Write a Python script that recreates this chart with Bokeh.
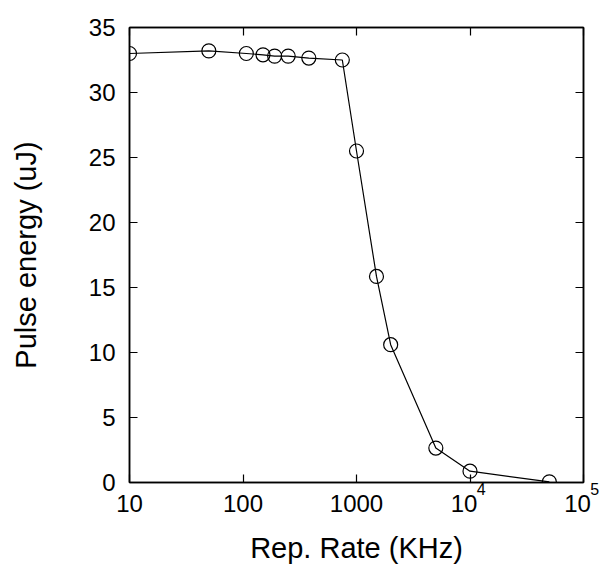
from bokeh.plotting import figure
from bokeh.models import Range1d, FixedTicker, LinearAxis, LogAxis
from bokeh.embed import file_html
from bokeh.resources import INLINE

rep_rate_khz = [10, 50, 107, 150, 190, 250, 380, 750, 1000, 1500, 2000, 5000, 10000, 50000]
pulse_energy_uj = [33.0, 33.2, 33.0, 32.9, 32.8, 32.8, 32.65, 32.5, 25.5, 15.85, 10.6, 2.65, 0.87, 0.05]

x_ticks = [10, 100, 1000, 10000, 100000]
x_tick_labels = ["10", "100", "1000", "10\u2002", "10\u2002"]
x_tick_exponents = [" ", " ", " ", "4", "5"]
y_ticks = [0, 5, 10, 15, 20, 25, 30, 35]

FONT = "Liberation Sans"
EXP_PAD = "\u2002\u2002\u2009\u2009"   # pushes centred exponent to the right of "10"

p = figure(width=603, height=568, x_axis_type="log",
           x_range=Range1d(10, 100000), y_range=Range1d(0, 35),
           output_backend="svg", toolbar_location=None,
           min_border_left=129, min_border_right=20,
           min_border_top=27, min_border_bottom=86)

p.grid.visible = False
p.outline_line_color = "black"
p.outline_line_width = 1.5
p.background_fill_color = "white"
p.border_fill_color = "white"

p.line(rep_rate_khz, pulse_energy_uj, line_color="black", line_width=1.2)
p.scatter(rep_rate_khz, pulse_energy_uj, marker="circle", size=14,
          fill_color=None, line_color="black", line_width=1.2)

def style(ax, labels=True):
    ax.axis_line_color = "black"
    ax.axis_line_width = 1.5
    ax.major_tick_in = 8
    ax.major_tick_out = 0
    ax.minor_tick_line_color = None
    ax.major_tick_line_color = "black"
    ax.major_tick_line_width = 1.2
    ax.major_label_text_font = FONT
    ax.major_label_text_font_size = "24px"
    ax.major_label_text_color = "black"
    ax.axis_label_text_font = FONT
    ax.axis_label_text_font_size = "29px"
    ax.axis_label_text_font_style = "normal"
    ax.axis_label_text_color = "black"
    if not labels:
        ax.major_label_text_color = None

yt = FixedTicker(ticks=y_ticks, minor_ticks=[])

# main bottom axis: mantissa labels + axis title (no line / ticks)
xa = p.xaxis[0]
xa.ticker = FixedTicker(ticks=x_ticks, minor_ticks=[])
xa.major_label_overrides = {t: l for t, l in zip(x_ticks, x_tick_labels)}
xa.axis_label = "Rep. Rate (KHz)"
style(xa)
xa.axis_line_color = None
xa.major_tick_line_color = None
xa.major_tick_in = 0
xa.major_label_standoff = -11
xa.axis_label_standoff = 12

# exponent axis next to the frame: line, ticks and superscripts
ex = LogAxis(ticker=FixedTicker(ticks=x_ticks, minor_ticks=[]))
style(ex)
ex.major_label_overrides = {t: (EXP_PAD + l if l.strip() else l)
                            for t, l in zip(x_ticks, x_tick_exponents)}
ex.major_label_text_font_size = "16px"
ex.major_label_standoff = -2
p.below = [ex, xa]

ya = p.yaxis[0]
ya.ticker = yt
ya.axis_label = "Pulse energy (uJ)"
style(ya)
ya.major_label_standoff = 14
ya.axis_label_standoff = 44

top = LogAxis(ticker=FixedTicker(ticks=x_ticks, minor_ticks=[]))
style(top, labels=False)
p.add_layout(top, "above")

right = LinearAxis(ticker=FixedTicker(ticks=y_ticks, minor_ticks=[]))
style(right, labels=False)
p.add_layout(right, "right")

open("out.html", "w").write(file_html(p, INLINE))
